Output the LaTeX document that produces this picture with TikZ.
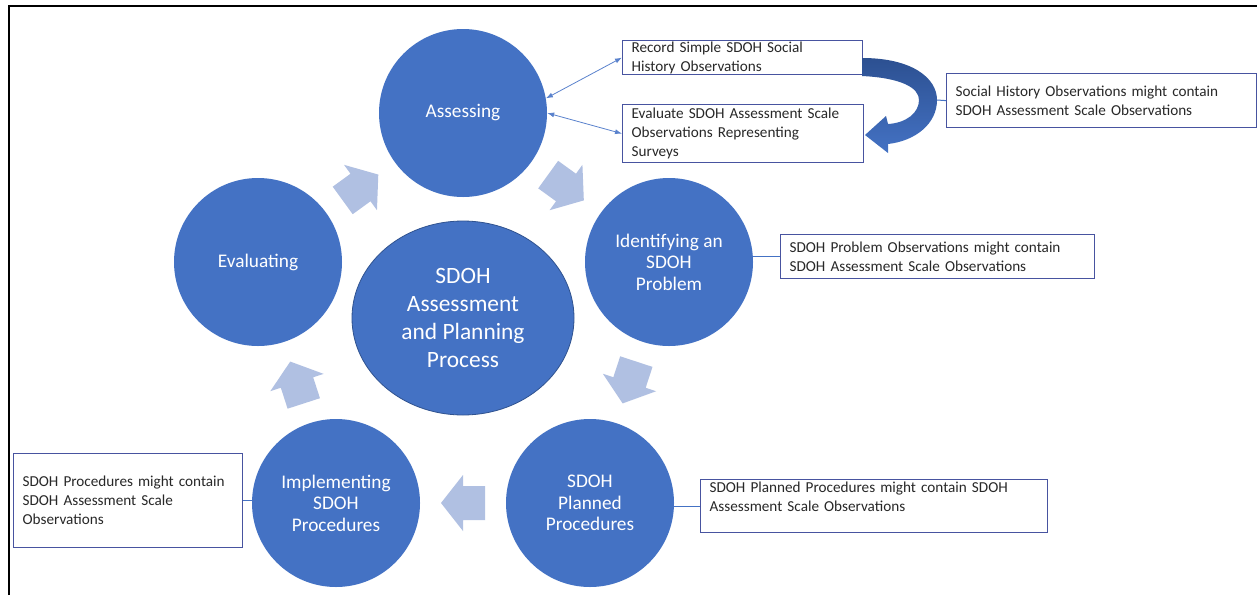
\documentclass[tikz,border=0pt]{standalone}
\usepackage{fontspec}
\setmainfont{Carlito}
\usetikzlibrary{calc,arrows.meta,shapes.geometric}
\definecolor{mainc}{RGB}{68,114,196}
\definecolor{darkc}{RGB}{47,82,143}
\definecolor{curtop}{RGB}{44,80,145}
\definecolor{arrowc}{RGB}{176,192,226}
\definecolor{boxc}{RGB}{72,84,160}
\definecolor{textc}{RGB}{40,40,40}
\definecolor{thinc}{RGB}{90,130,205}
\newcommand\boxfont{\fontsize{15.2}{19}\selectfont}
\newcommand\circfont{\fontsize{19.3}{21.5}\selectfont}
\newcommand\cenfont{\fontsize{23.4}{28}\selectfont}
\tikzset{
  stage/.style={circle, fill=mainc, minimum size=168pt, inner sep=0pt, text=white, align=center, font=\circfont},
  notebox/.style={draw=boxc, line width=1.2pt, fill=white, anchor=north west, inner xsep=9pt, inner ysep=0pt, align=left, font=\boxfont, text=textc},
  thinarr/.style={draw=thinc, line width=0.8pt, {Latex[length=7pt,width=5pt]}-{Latex[length=7pt,width=5pt]}},
  conn/.style={draw=mainc, line width=1pt},
  barrow/.pic={\fill[arrowc] (-22,-17) -- (0,-17) -- (0,-28) -- (22,0) -- (0,28) -- (0,17) -- (-22,17) -- cycle;}
}
\begin{document}
\begin{tikzpicture}[x=1pt,y=1pt]
\useasboundingbox (0,0) rectangle (1257,-595);
\fill[white] (0,0) rectangle (1257,-595);
\draw[line width=2pt] (9,-595) -- (9,-6) -- (1257,-6);

% stages
\node[stage] (ass) at (463,-113) {Assessing};
\node[stage] (ide) at (669,-262) {Identifying an\\SDOH\\Problem};
\node[stage] (pla) at (590,-503) {SDOH\\Planned\\Procedures};
\node[stage] (imp) at (336,-503) {Implementing\\SDOH\\Procedures};
\node[stage] (eva) at (258,-262) {Evaluating};
\node[ellipse, fill=mainc, draw=darkc, line width=0.8pt, minimum width=222pt, minimum height=194pt, inner sep=0pt, text=white, align=center, font=\cenfont] (cen) at (463,-318) {SDOH\\Assessment\\and Planning\\Process};

% block arrows between stages
\foreach \a/\b in {ass/ide, ide/pla, pla/imp, imp/eva, eva/ass} {
  \path let \p1=($(\b)-(\a)$), \n1={atan2(\y1,\x1)} in ($(\a)!.5!(\b)$) pic[rotate=\n1] {barrow};
}

% note boxes
\node[notebox, minimum width=240pt, minimum height=34pt, text width=222pt] (rec) at (622,-40) {\mbox{Record Simple SDOH Social}\\\mbox{History Observations}};
\node[notebox, minimum width=241pt, minimum height=58pt, text width=223pt] (evb) at (622,-104) {\mbox{Evaluate SDOH Assessment Scale}\\\mbox{Observations Representing}\\\mbox{Surveys}};
\node[notebox, minimum width=310pt, minimum height=54pt, text width=292pt] (soc) at (946,-73) {\mbox{Social History Observations might contain}\\\mbox{SDOH Assessment Scale Observations}};
\node[notebox, minimum width=314pt, minimum height=44pt, text width=296pt] (prob) at (780,-234) {\mbox{SDOH Problem Observations might contain}\\\mbox{SDOH Assessment Scale Observations}};
\node[notebox, minimum width=347pt, minimum height=53pt, text width=329pt] (plb) at (700,-479) {\mbox{SDOH Planned Procedures might contain SDOH}\\\mbox{Assessment Scale Observations}\\\mbox{}};
\node[notebox, minimum width=229pt, minimum height=94pt, text width=211pt] (prc) at (13,-453) {\mbox{SDOH Procedures might contain}\\\mbox{SDOH Assessment Scale}\\\mbox{Observations}};

% curved arrow
\shade[top color=curtop, bottom color=mainc] (862,-58) .. controls (912,-58) and (937,-78) .. (937,-100) .. controls (937,-124) and (915,-141) .. (888,-144) -- (888,-153) -- (865,-135) -- (886,-116) -- (888,-124) .. controls (906,-123) and (919,-113) .. (919,-100) .. controls (919,-88) and (902,-78) .. (862,-76) -- cycle;
\coordinate (cur) at (937,-100);

% connectors
\draw[thinarr] (ass.10) -- (rec.west);
\draw[thinarr] (ass.east) -- (evb.west);
\draw[conn] (soc.west) -- (cur);
\draw[conn] (prob.west) -- (prob.west -| ide.east);
\draw[conn] (plb.west) -- (plb.west -| pla.east);
\draw[conn] (prc.east) -- (prc.east -| imp.west);
\end{tikzpicture}
\end{document}
